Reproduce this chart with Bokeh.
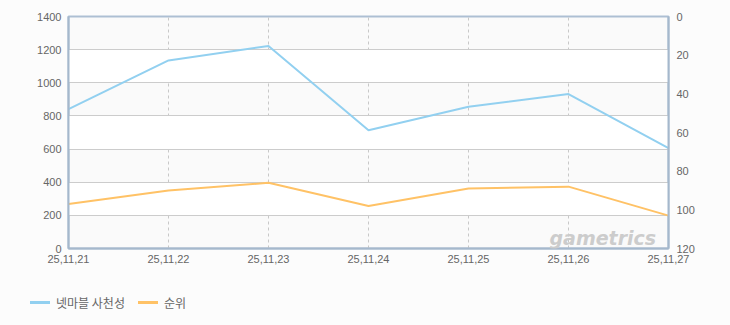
from bokeh.plotting import figure
from bokeh.layouts import column
from bokeh.models import (Range1d, LinearAxis, FixedTicker, Label, Div)
from bokeh.embed import file_html
from bokeh.resources import INLINE

dates = ["25,11,21", "25,11,22", "25,11,23", "25,11,24", "25,11,25", "25,11,26", "25,11,27"]
users = [841, 1135, 1222, 714, 855, 932, 606]
ranks = [97, 90, 86, 98, 89, 88, 103]
left_ticks = [0, 200, 400, 600, 800, 1000, 1200, 1400]
right_ticks = [0, 20, 40, 60, 80, 100, 120]
series_names = ["넷마블 사천성", "순위"]
colors = ["#92d0f0", "#ffc266"]

xs = list(range(len(dates)))

main = figure(width=730, height=280, output_backend="svg", toolbar_location=None,
              x_range=Range1d(0, len(dates) - 1), y_range=Range1d(0, 1400),
              min_border_left=68, min_border_right=62, min_border_top=16, min_border_bottom=32)
main.background_fill_color = "#fafafa"
main.border_fill_color = "#fcfcfc"
main.outline_line_color = "#adbfd3"
main.outline_line_width = 2

main.extra_y_ranges = {"rank": Range1d(start=120, end=0)}

font = "Liberation Sans"
axis_color = "#a5b8cc"
label_color = "#666666"

# x axis
main.xaxis.ticker = FixedTicker(ticks=xs)
main.xaxis.major_label_overrides = {i: d for i, d in enumerate(dates)}
main.xaxis.axis_line_color = axis_color
main.xaxis.axis_line_width = 2
main.xaxis.major_tick_line_color = None
main.xaxis.minor_tick_line_color = None
main.xaxis.major_label_text_font = font
main.xaxis.major_label_text_font_size = "11px"
main.xaxis.major_label_text_color = label_color
main.xaxis.major_label_standoff = 0

# left axis
main.yaxis.ticker = FixedTicker(ticks=left_ticks)
main.yaxis.axis_line_color = axis_color
main.yaxis.axis_line_width = 2
main.yaxis.major_tick_line_color = None
main.yaxis.minor_tick_line_color = None
main.yaxis.major_label_text_font = font
main.yaxis.major_label_text_font_size = "11px"
main.yaxis.major_label_text_color = label_color
main.yaxis.major_label_standoff = 1

# right axis
ra = LinearAxis(y_range_name="rank", ticker=FixedTicker(ticks=right_ticks))
ra.axis_line_color = axis_color
ra.axis_line_width = 2
ra.major_tick_line_color = None
ra.minor_tick_line_color = None
ra.major_label_text_font = font
ra.major_label_text_font_size = "11px"
ra.major_label_text_color = label_color
ra.major_label_standoff = 2
main.add_layout(ra, "right")

# grids
main.xgrid.grid_line_color = "#c8c8c8"
main.xgrid.grid_line_dash = "3 3"
main.xgrid.grid_line_width = 1
main.ygrid.grid_line_color = "#cccccc"
main.ygrid.grid_line_width = 1
main.ygrid.band_fill_color = "#ffffff"
main.ygrid.band_fill_alpha = 1

# watermark
wm = Label(x=4.81, y=66, text="gametrics", text_font="DejaVu Sans", text_font_style="bold italic",
           text_font_size="19px", text_color="#cccccc", text_align="left", text_baseline="alphabetic")
main.add_layout(wm)

main.line(xs, users, line_color=colors[0], line_width=2)
main.line(xs, ranks, line_color=colors[1], line_width=2, y_range_name="rank")

# legend strip below
items_html = "".join(
    f'<span style="display:inline-block;width:20px;height:3px;background:{c};'
    f'vertical-align:middle;margin-right:6px"></span>'
    f'<span style="vertical-align:middle;margin-right:13px">{n}</span>'
    for n, c in zip(series_names, colors))
leg = Div(text=f'<div style="padding-left:30px;padding-top:11px;font-family:\'Noto Sans CJK KR\';'
               f'font-size:12px;color:#666666;line-height:20px;white-space:nowrap">{items_html}</div>',
          width=730, height=45, margin=0,
          styles={"background-color": "#fcfcfc"})

p = column(main, leg, spacing=0, styles={"background-color": "#fcfcfc"})

open("out.html", "w").write(file_html(p, INLINE))
